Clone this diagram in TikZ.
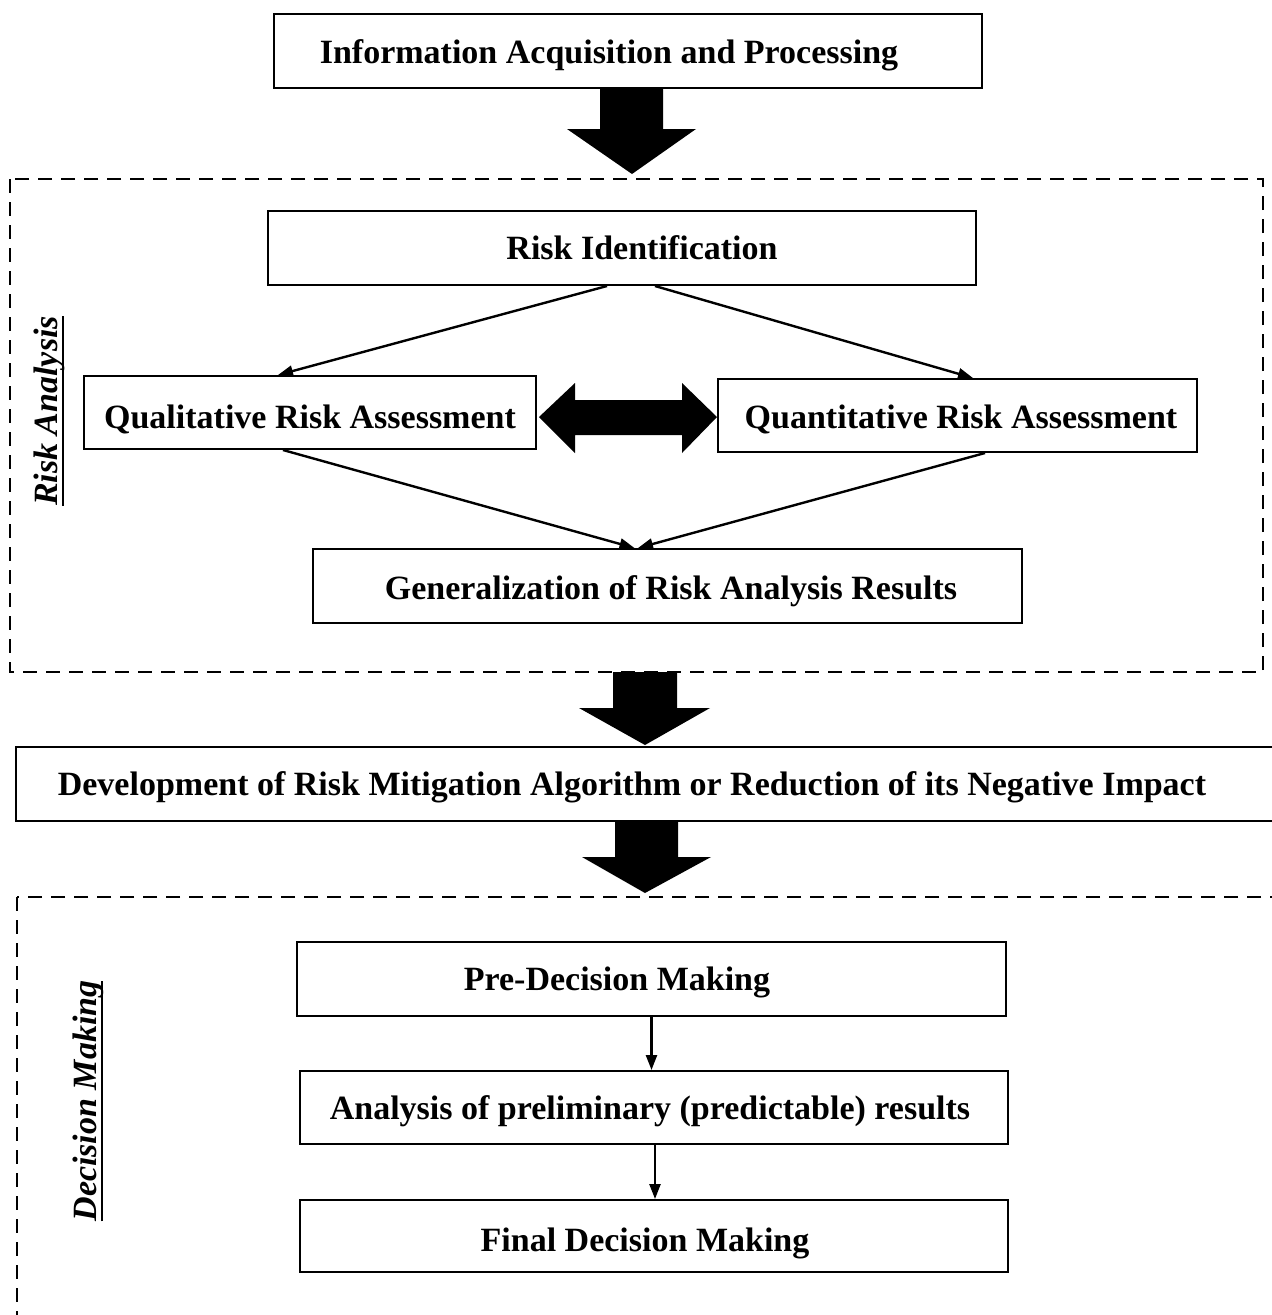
\documentclass[tikz,border=0pt]{standalone}
\usepackage{fontspec}
\setmainfont{Liberation Serif}
\usetikzlibrary{arrows.meta,calc}
\newcommand\myul[1]{\setbox0\hbox{#1}\rlap{\rule[-7pt]{\wd0}{2.6pt}}\box0}
\begin{document}
\begin{tikzpicture}[x=1pt,y=1pt,
  box/.style={draw,line width=2pt,inner sep=0pt},
  txt/.style={inner sep=0pt,text height=22pt,text depth=0pt,font=\fontsize{34}{40}\selectfont\bfseries},
  side/.style={inner sep=0pt,rotate=90,font=\fontsize{34}{40}\selectfont\bfseries\itshape},
  dashbox/.style={line width=2.6pt,dash pattern=on 14pt off 9pt},
  arr/.style={line width=2.4pt,-{Triangle[length=15pt,width=11pt]}},
  fat/.style={fill=black}]
\clip (0,0) rectangle (1272,-1315);
\fill[white] (0,0) rectangle (1272,-1315);

% dashed regions
\draw[dashbox] (10,-179) rectangle (1263,-672);
\draw[dashbox] (17,-897) rectangle (1300,-1340);

% boxes
\node[box,minimum width=708pt,minimum height=74pt] (info) at (628,-51) {};
\node[txt] (infot) at (609,-52) {Information Acquisition and Processing};

\node[box,minimum width=708pt,minimum height=74pt] (rid) at (622,-248) {};
\node[txt] (ridt) at (642,-248) {Risk Identification};

\node[box,minimum width=452pt,minimum height=73pt] (qual) at (310,-412.5) {};
\node[txt] (qualt) at (310,-417) {Qualitative Risk Assessment};

\node[box,minimum width=479pt,minimum height=73pt] (quant) at (957.5,-415.5) {};
\node[txt] (quantt) at (961,-417) {Quantitative Risk Assessment};

\node[box,minimum width=709pt,minimum height=74pt] (gen) at (667.5,-586) {};
\node[txt] (gent) at (671,-588) {Generalization of Risk Analysis Results};

\node[box,minimum width=1280pt,minimum height=74pt] (dev) at (656,-784) {};
\node[txt] (devt) at (632,-784) {Development of Risk Mitigation Algorithm or Reduction of its Negative Impact};

\node[box,minimum width=709pt,minimum height=74pt] (pre) at (651.5,-979) {};
\node[txt] (pret) at (617,-979) {Pre-Decision Making};

\node[box,minimum width=708pt,minimum height=73pt] (ana) at (654,-1107.5) {};
\node[txt] (anat) at (650,-1108) {Analysis of preliminary (predictable) results};

\node[box,minimum width=708pt,minimum height=72pt] (fin) at (654,-1236) {};
\node[txt] (fint) at (645,-1240) {Final Decision Making};

% side labels
\node[side] (ra) at (49,-411) {\myul{Risk Analysis}};
\node[side] (dm) at (88,-1101) {\myul{Decision Making}};

% thin arrows
\draw[arr] ([xshift=-15pt]rid.south) -- ([xshift=-32pt]qual.north);
\draw[arr] ([xshift=33pt]rid.south) -- ([xshift=15.5pt]quant.north);
\draw[arr] ([xshift=-27pt]qual.south) -- ([xshift=-33pt]gen.north);
\draw[arr] ([xshift=27.5pt]quant.south) -- ([xshift=-29.5pt]gen.north);
\draw[arr] (pre.south) -- (pre.south |- ana.north);
\draw[arr] ([xshift=1pt]ana.south) -- ([xshift=1pt]fin.north);

% fat arrows
\fill[fat] (600,-88) -- (600,-129) -- (567,-129) -- (632,-174) -- (696,-129) -- (663,-129) -- (663,-88) -- cycle;
\fill[fat] (613,-672) -- (613,-708) -- (579,-708) -- (645,-745) -- (710,-708) -- (677,-708) -- (677,-672) -- cycle;
\fill[fat] (615,-821) -- (615,-857) -- (582,-857) -- (645,-893) -- (711,-857) -- (678,-857) -- (678,-821) -- cycle;
\fill[fat] (539,-417) -- (575,-383) -- (575,-400) -- (682,-400) -- (682,-383) -- (717,-417) -- (682,-453) -- (682,-435) -- (575,-435) -- (575,-453) -- cycle;
\end{tikzpicture}
\end{document}
